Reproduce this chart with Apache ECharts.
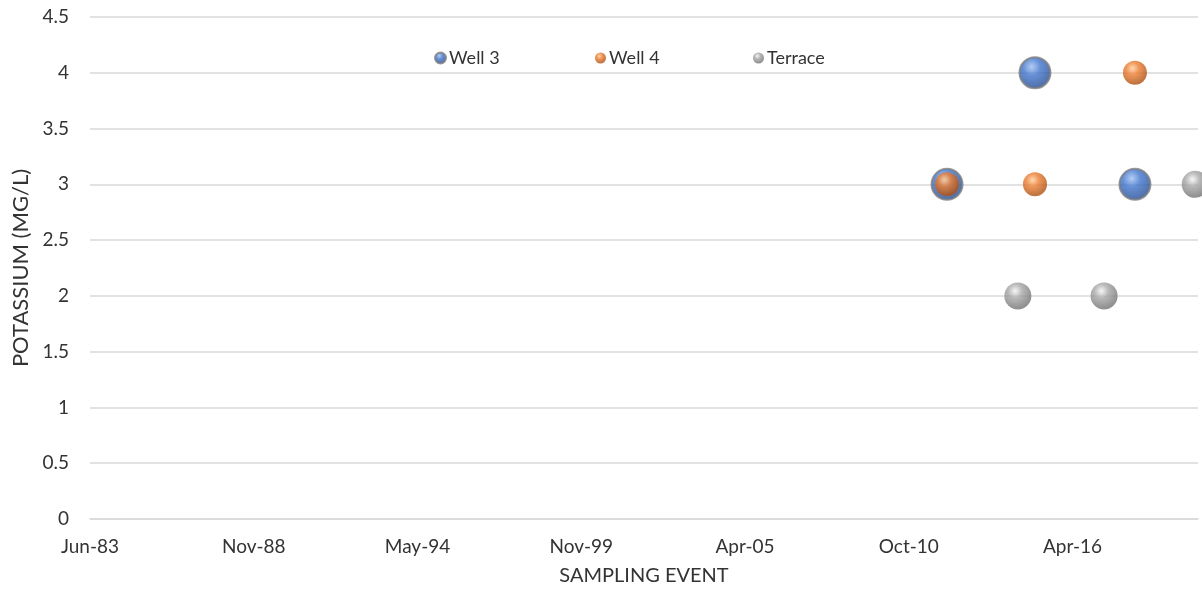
<!DOCTYPE html>
<html>
<head>
<meta charset="utf-8">
<script src="https://cdn.jsdelivr.net/npm/echarts@6/dist/echarts.min.js"></script>
<style>
html,body{margin:0;padding:0;background:#fff;}
#chart{width:1202px;height:593px;}
</style>
</head>
<body>
<div id="chart"></div>
<script>
// ---- data ----
var well3Dates = ['2012-01-27', '2015-01-05', '2018-05-10'];
var well3Values = [3, 4, 3];
var well4Dates = ['2012-01-27', '2015-01-05', '2018-05-10'];
var well4Values = [3, 3, 4];
var terraceDates = ['2014-06-10', '2017-04-28', '2020-05-15'];
var terraceValues = [2, 2, 3];
var yTicks = [0, 0.5, 1, 1.5, 2, 2.5, 3, 3.5, 4, 4.5];
var xAxisStart = '1983-06-01';   // first tick label Jun-83
var xAxisEnd = '2020-06-18';
var xTickDays = 2000;

var MONTHS = ['Jan','Feb','Mar','Apr','May','Jun','Jul','Aug','Sep','Oct','Nov','Dec'];
var DAY = 86400000;
var base = Date.parse(xAxisStart + 'T00:00:00Z');
function toDays(s){ return Math.round((Date.parse(s + 'T00:00:00Z') - base) / DAY); }
function fmt(v){
  var d = new Date(base + v * DAY);
  return MONTHS[d.getUTCMonth()] + '-' + String(d.getUTCFullYear()).slice(2);
}
function pts(dates, vals){ return dates.map(function(d, i){ return [toDays(d), vals[i]]; }); }

function sphere(light, mid, dark){
  return {
    type: 'radial', x: 0.4, y: 0.32, r: 0.75,
    colorStops: [
      {offset: 0, color: light},
      {offset: 0.35, color: mid},
      {offset: 0.85, color: dark},
      {offset: 1, color: dark}
    ]
  };
}
var blueFill = sphere('#9fc0f2', '#3f74cc', '#264d94');
var orangeFill = sphere('#ffcf9c', '#ed7d31', '#b05212');
var grayFill = sphere('#f4f4f4', '#a6a6a6', '#767676');

var FONT = 'Lato';
var TXT = '#333333';

var chart = echarts.init(document.getElementById('chart'));
function legendAt(name, left){
  return {
    data: [name], left: left, top: 44, itemWidth: 11, itemHeight: 11, icon: 'circle',
    itemGap: 0, textStyle: {fontFamily: FONT, fontSize: 18, color: TXT, padding: [0,0,0,-2]}
  };
}
chart.setOption({
  animation: false,
  backgroundColor: '#ffffff',
  legend: [legendAt('Well 3', 429), legendAt('Well 4', 590), legendAt('Terrace', 748)],
  grid: {left: 90, right: 4, top: 17, bottom: 74, containLabel: false},
  xAxis: {
    type: 'value', min: 0, max: toDays(xAxisEnd), interval: xTickDays,
    name: 'SAMPLING EVENT', nameLocation: 'middle', nameGap: 47,
    nameTextStyle: {fontFamily: FONT, fontSize: 20, color: TXT},
    axisLine: {show: true, lineStyle: {color: '#d9d9d9', width: 1.5}},
    axisTick: {show: false},
    splitLine: {show: false},
    axisLabel: {formatter: fmt, fontFamily: FONT, fontSize: 19, color: TXT, margin: 18, showMaxLabel: false}
  },
  yAxis: {
    type: 'value', min: yTicks[0], max: yTicks[yTicks.length - 1], interval: 0.5,
    name: 'POTASSIUM (MG/L)', nameLocation: 'middle', nameGap: 56, nameRotate: 90,
    nameTextStyle: {fontFamily: FONT, fontSize: 22, color: TXT},
    axisLine: {show: false}, axisTick: {show: false},
    splitLine: {lineStyle: {color: '#d9d9d9', width: 1.5}},
    axisLabel: {fontFamily: FONT, fontSize: 19, color: TXT, margin: 21}
  },
  series: [
    {name: 'Well 3', type: 'scatter', symbol: 'circle', symbolSize: 31, clip: false,
     data: pts(well3Dates, well3Values),
     itemStyle: {color: blueFill, borderColor: '#7f7f7f', borderWidth: 2}},
    {name: 'Well 4', type: 'scatter', symbol: 'circle', symbolSize: 24, clip: false,
     data: pts(well4Dates, well4Values),
     itemStyle: {color: orangeFill}},
    {name: 'Terrace', type: 'scatter', symbol: 'circle', symbolSize: 27, clip: false,
     data: pts(terraceDates, terraceValues),
     itemStyle: {color: grayFill}}
  ]
});
</script>
</body>
</html>
